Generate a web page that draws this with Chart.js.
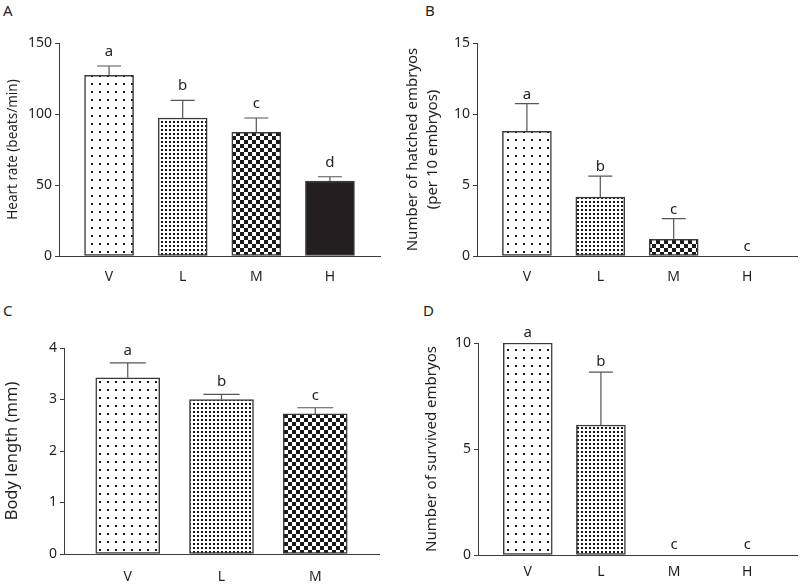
<!DOCTYPE html>
<html>
<head>
<meta charset="utf-8">
<script src="https://cdn.jsdelivr.net/npm/chart.js@4.4.0/dist/chart.umd.min.js"></script>
<style>
  body { margin: 0; background: #fff; width: 800px; height: 586px; position: relative; overflow: hidden; font-family: 'Noto Sans', sans-serif; }
  .panel { position: absolute; }
  .tag { position: absolute; font-size: 15px; line-height: 20px; color: #231f20; }
  canvas { display: block; }
</style>
</head>
<body>
<div class="tag" style="left:3px;top:0px">A</div>
<div class="tag" style="left:425px;top:0px">B</div>
<div class="tag" style="left:3px;top:300px">C</div>
<div class="tag" style="left:423px;top:300px">D</div>

<div class="panel" style="left:0;top:0"><canvas id="chartA" width="400" height="290"></canvas></div>
<div class="panel" style="left:400px;top:0"><canvas id="chartB" width="400" height="290"></canvas></div>
<div class="panel" style="left:0;top:290px"><canvas id="chartC" width="400" height="296"></canvas></div>
<div class="panel" style="left:400px;top:290px"><canvas id="chartD" width="400" height="296"></canvas></div>

<script>
// groups (V = vehicle, L/M/H = low/medium/high dose)
const groups4 = ['V', 'L', 'M', 'H'];
const groups3 = ['V', 'L', 'M'];

// A - heart rate
const heartRate = [127.3, 97.2, 87.1, 52.8];
const heartRateErr = [6.5, 12.4, 10.1, 3.0];
const heartLetters = ['a', 'b', 'c', 'd'];

// B - hatched embryos
const hatched = [8.78, 4.15, 1.17, 0];
const hatchedErr = [1.95, 1.48, 1.46, 0];
const hatchedLetters = ['a', 'b', 'c', 'c'];

// C - body length
const bodyLength = [3.42, 3.0, 2.72];
const bodyLengthErr = [0.29, 0.1, 0.12];
const bodyLetters = ['a', 'b', 'c'];

// D - survived embryos
const survived = [10, 6.13, 0, 0];
const survivedErr = [0, 2.5, 0, 0];
const survivedLetters = ['a', 'b', 'c', 'c'];

const ink = '#231f20';
const axisColor = '#3c3c3c';
const family = "'Noto Sans', sans-serif";

// fill patterns, one per group
function tile(w, h, draw) {
  const c = document.createElement('canvas');
  c.width = w; c.height = h;
  const g = c.getContext('2d');
  g.fillStyle = '#fff';
  g.fillRect(0, 0, w, h);
  g.fillStyle = '#1a1a1a';
  draw(g);
  return g.createPattern(c, 'repeat');
}
const sparseDots = tile(8, 8, g => g.fillRect(3, 3, 2, 2));
const denseDots = tile(4, 4, g => g.fillRect(1, 1, 2, 2));
const checker = tile(8, 8, g => { g.fillRect(0, 0, 4, 4); g.fillRect(4, 4, 4, 4); });
const fills = [sparseDots, denseDots, checker, ink];

// error bars (upward only) and significance letters
const marks = {
  id: 'marks',
  afterDatasetsDraw(chart, args, opts) {
    const { ctx, scales: { x, y } } = chart;
    ctx.save();
    opts.values.forEach((v, i) => {
      const cx = x.getPixelForValue(i);
      const err = opts.errors[i];
      const yTop = y.getPixelForValue(v + err);
      if (err > 0) {
        const yBar = y.getPixelForValue(v);
        ctx.strokeStyle = '#555';
        ctx.lineWidth = 1.2;
        ctx.beginPath();
        ctx.moveTo(cx, yBar);
        ctx.lineTo(cx, yTop);
        ctx.moveTo(cx - opts.cap, yTop);
        ctx.lineTo(cx + opts.cap, yTop);
        ctx.stroke();
      }
      ctx.fillStyle = ink;
      ctx.font = '15px ' + family;
      ctx.textAlign = 'center';
      ctx.textBaseline = 'alphabetic';
      ctx.fillText(opts.letters[i], cx, yTop - opts.gap);
    });
    ctx.restore();
  }
};

function makeChart(id, groups, values, errors, letters, o) {
  return new Chart(document.getElementById(id), {
    type: 'bar',
    data: {
      datasets: [{
        data: groups.map((g, i) => ({ x: i, y: values[i] })),
        backgroundColor: groups.map((g, i) => fills[i]),
        borderColor: '#3a3a3a',
        borderWidth: 1.5,
        borderSkipped: false,
        barThickness: o.barW
      }]
    },
    options: {
      responsive: false,
      animation: false,
      layout: { padding: { left: 0, right: o.right, top: o.top, bottom: 0 } },
      plugins: {
        legend: { display: false },
        tooltip: { enabled: false },
        marks: { values: values, errors: errors, letters: letters, gap: o.gap, cap: o.cap }
      },
      scales: {
        x: {
          type: 'linear',
          offset: false,
          min: -0.68,
          max: groups.length - 1 + 0.68,
          grid: { display: false, drawTicks: false, offset: false },
          border: { display: true, color: axisColor, width: 1 },
          afterBuildTicks: s => { s.ticks = groups.map((g, i) => ({ value: i })); },
          ticks: {
            callback: v => groups[v],
            color: ink,
            font: { size: 14, family: family },
            padding: o.xPad,
            autoSkip: false,
            maxRotation: 0
          },
          afterFit: s => { s.height = o.xH; }
        },
        y: {
          min: 0,
          max: o.max,
          ticks: { stepSize: o.step, color: ink, font: { size: 14, family: family }, padding: 3 },
          grid: { drawOnChartArea: false, drawTicks: true, tickLength: 4, color: axisColor },
          border: { display: true, color: axisColor, width: 1 },
          title: {
            display: true,
            text: o.title,
            color: ink,
            font: { size: o.titleSize, family: family, lineHeight: 1.3 },
            padding: { top: o.titlePad, bottom: 0 }
          },
          afterFit: s => { s.width = o.yW; }
        }
      }
    },
    plugins: [marks]
  });
}

makeChart('chartA', groups4, heartRate, heartRateErr, heartLetters, {
  max: 150, step: 50, title: 'Heart rate (beats/min)', titleSize: 13.5, titlePad: 4,
  yW: 59, xH: 34, right: 20, top: 43, xPad: 13, barW: 49, cap: 12, gap: 10
});
makeChart('chartB', groups4, hatched, hatchedErr, hatchedLetters, {
  max: 15, step: 5, title: ['Number of hatched embryos', '(per 10 embryos)'], titleSize: 15, titlePad: 3,
  yW: 77, xH: 34, right: 3, top: 43, xPad: 13, barW: 49, cap: 12, gap: 5
});
makeChart('chartC', groups3, bodyLength, bodyLengthErr, bodyLetters, {
  max: 4, step: 1, title: 'Body length (mm)', titleSize: 16.5, titlePad: 2,
  yW: 64, xH: 32, right: 21, top: 58, xPad: 15, barW: 64, cap: 18, gap: 8
});
makeChart('chartD', groups4, survived, survivedErr, survivedLetters, {
  max: 10, step: 5, title: 'Number of survived embryos', titleSize: 15, titlePad: 22,
  yW: 78, xH: 31, right: 3, top: 53, xPad: 9, barW: 49, cap: 12, gap: 6
});
</script>
</body>
</html>
